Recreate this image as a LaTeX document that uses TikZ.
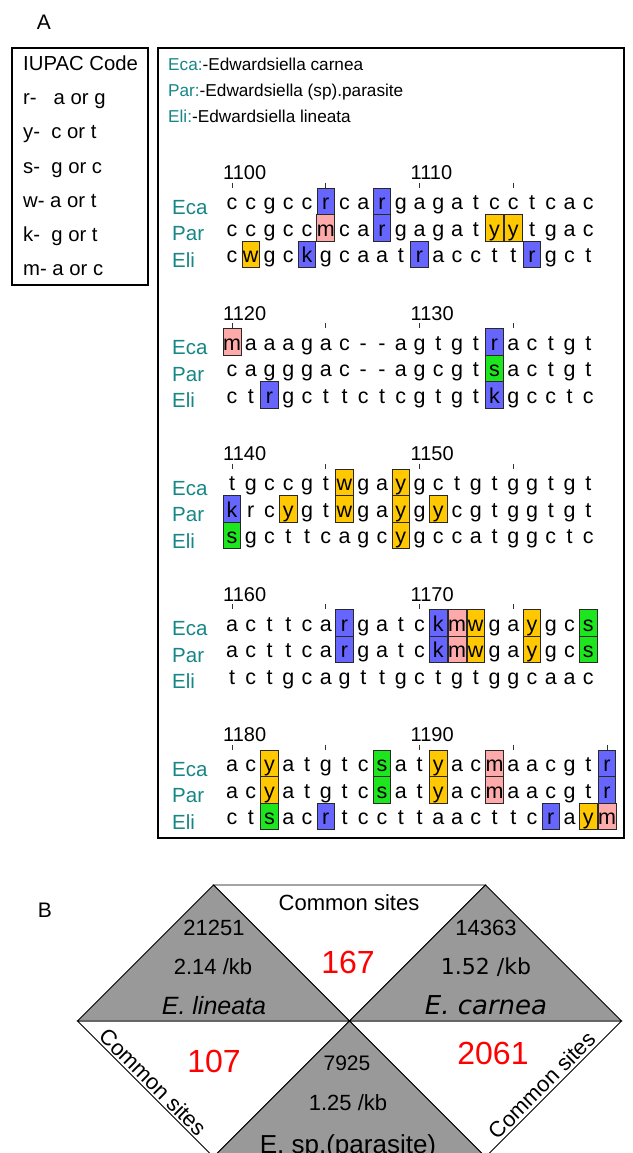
\documentclass[tikz,border=0pt]{standalone}
\usepackage{fontspec}
\setmainfont{Liberation Sans}
\newfontfamily\dvsans{DejaVu Sans}
\definecolor{labteal}{RGB}{22,134,134}
\definecolor{hlB}{RGB}{102,102,255}
\definecolor{hlP}{RGB}{255,170,170}
\definecolor{hlY}{RGB}{255,200,0}
\definecolor{hlG}{RGB}{30,230,30}
\definecolor{trigray}{RGB}{153,153,153}
\definecolor{cellline}{RGB}{40,40,40}
\newcommand\fsz[1]{\fontsize{#1}{#1}\selectfont}

% one aligned row: #1 block, #2 row tag, #3 baseline, #4 list of letter/highlight
\newcommand\seqrow[4]{%
  \foreach \ch/\hl [count=\i from 0] in {#4}{%
    \if\hl N\def\fc{none}\def\dc{none}\else\def\fc{hl\hl}\def\dc{cellline}\fi
    \node[cell,fill=\fc,draw=\dc] (#2#1-\i) at ({232+18.75*\i},#3) {\ch};
  }%
}

\begin{document}
\begin{tikzpicture}[x=1pt,y=-1pt,
  cell/.style={inner sep=0pt,minimum width=17.4pt,minimum height=26.5pt,
    text height=21.5pt,text depth=5pt,anchor=base,line width=0.7pt,font=\fsz{21.5}},
  numlbl/.style={inner sep=0pt,anchor=base west,font=\fsz{20}},
  rowlbl/.style={inner sep=0pt,anchor=base west,font=\fsz{20.5},text=labteal},
  legtxt/.style={inner sep=0pt,anchor=base west,font=\fsz{17.2}},
  iupac/.style={inner sep=0pt,anchor=base west,font=\fsz{20.3}},
  tick/.style={line width=0.9pt,draw=black!80},
  frame/.style={line width=1.3pt},
  tri/.style={draw=black,line width=0.8pt},
  btxt/.style={inner sep=0pt,anchor=base},
  redval/.style={inner sep=0pt,anchor=base,text=red,font=\fsz{32}},
  panel/.style={inner sep=0pt,font=\fsz{21}}]
\useasboundingbox (0,0) rectangle (632,1153);
\clip (0,0) rectangle (632,1153);
\fill[white] (0,0) rectangle (632,1153);

% ---------- panel A ----------
\node[panel] (pA) at (44,22) {A};

% IUPAC legend
\draw[frame] (12,48) rectangle (148,285);
\node[iupac] (iu0) at (23,71)  {IUPAC Code};
\node[iupac] (iu1) at (23,105) {r-\ \ \ a or g};
\node[iupac] (iu2) at (23,139) {y-\ \ c or t};
\node[iupac] (iu3) at (23,173) {s-\ \ g or c};
\node[iupac] (iu4) at (23,207) {w- a or t};
\node[iupac] (iu5) at (23,241) {k-\ \ g or t};
\node[iupac] (iu6) at (23,275) {m- a or c};

% alignment frame and species key
\draw[frame] (158,48) rectangle (624,838);
\node[legtxt] (kE) at (168,71)  {\textcolor{labteal}{Eca:}-Edwardsiella carnea};
\node[legtxt] (kP) at (168,97)  {\textcolor{labteal}{Par:}-Edwardsiella (sp).parasite};
\node[legtxt] (kL) at (168,123) {\textcolor{labteal}{Eli:}-Edwardsiella lineata};

% position numbers, ticks and row labels
\foreach \b/\na/\nb in {0/1100/1110,1/1120/1130,2/1140/1150,3/1160/1170,4/1180/1190}{
  \pgfmathsetmacro\yb{209.5+140.5*\b}
  \node[numlbl] (num\b a) at (223,{\yb-30}) {\na};
  \node[numlbl] (num\b b) at (410.5,{\yb-30}) {\nb};
  \node[rowlbl] (lab\b E) at (172,{\yb+4.5}) {Eca};
  \node[rowlbl] (lab\b P) at (172,{\yb+31}) {Par};
  \node[rowlbl] (lab\b L) at (172,{\yb+57.5}) {Eli};
  \foreach \t in {0,5,10,15}{\draw[tick] ({232+18.75*\t},{\yb-27}) -- ++(0,5);}
}
\draw[tick] (607,744.5) -- ++(0,5);

% block 1100
\seqrow{1}{E}{209.5}{c/N,c/N,g/N,c/N,c/N,r/B,c/N,a/N,r/B,g/N,a/N,g/N,a/N,t/N,c/N,c/N,t/N,c/N,a/N,c/N}
\seqrow{1}{P}{236}{c/N,c/N,g/N,c/N,c/N,m/P,c/N,a/N,r/B,g/N,a/N,g/N,a/N,t/N,y/Y,y/Y,t/N,g/N,a/N,c/N}
\seqrow{1}{L}{262.5}{c/N,w/Y,g/N,c/N,k/B,g/N,c/N,a/N,a/N,t/N,r/B,a/N,c/N,c/N,t/N,t/N,r/B,g/N,c/N,t/N}
% block 1120
\seqrow{2}{E}{350}{m/P,a/N,a/N,a/N,g/N,a/N,c/N,-/N,-/N,a/N,g/N,t/N,g/N,t/N,r/B,a/N,c/N,t/N,g/N,t/N}
\seqrow{2}{P}{376.5}{c/N,a/N,g/N,g/N,g/N,a/N,c/N,-/N,-/N,a/N,g/N,c/N,g/N,t/N,s/G,a/N,c/N,t/N,g/N,t/N}
\seqrow{2}{L}{403}{c/N,t/N,r/B,g/N,c/N,t/N,t/N,c/N,t/N,c/N,g/N,t/N,g/N,t/N,k/B,g/N,c/N,c/N,t/N,c/N}
% block 1140
\seqrow{3}{E}{490.5}{t/N,g/N,c/N,c/N,g/N,t/N,w/Y,g/N,a/N,y/Y,g/N,c/N,t/N,g/N,t/N,g/N,g/N,t/N,g/N,t/N}
\seqrow{3}{P}{517}{k/B,r/N,c/N,y/Y,g/N,t/N,w/Y,g/N,a/N,y/Y,g/N,y/Y,c/N,g/N,t/N,g/N,g/N,t/N,g/N,t/N}
\seqrow{3}{L}{543.5}{s/G,g/N,c/N,t/N,t/N,c/N,a/N,g/N,c/N,y/Y,g/N,c/N,c/N,a/N,t/N,g/N,g/N,c/N,t/N,c/N}
% block 1160
\seqrow{4}{E}{631}{a/N,c/N,t/N,t/N,c/N,a/N,r/B,g/N,a/N,t/N,c/N,k/B,m/P,w/Y,g/N,a/N,y/Y,g/N,c/N,s/G}
\seqrow{4}{P}{657.5}{a/N,c/N,t/N,t/N,c/N,a/N,r/B,g/N,a/N,t/N,c/N,k/B,m/P,w/Y,g/N,a/N,y/Y,g/N,c/N,s/G}
\seqrow{4}{L}{684}{t/N,c/N,t/N,g/N,c/N,a/N,g/N,t/N,t/N,g/N,c/N,t/N,g/N,t/N,g/N,g/N,c/N,a/N,a/N,c/N}
% block 1180
\seqrow{5}{E}{771.5}{a/N,c/N,y/Y,a/N,t/N,g/N,t/N,c/N,s/G,a/N,t/N,y/Y,a/N,c/N,m/P,a/N,a/N,c/N,g/N,t/N,r/B}
\seqrow{5}{P}{798}{a/N,c/N,y/Y,a/N,t/N,g/N,t/N,c/N,s/G,a/N,t/N,y/Y,a/N,c/N,m/P,a/N,a/N,c/N,g/N,t/N,r/B}
\seqrow{5}{L}{824.5}{c/N,t/N,s/G,a/N,c/N,r/B,t/N,c/N,c/N,t/N,t/N,a/N,a/N,c/N,t/N,t/N,c/N,r/B,a/N,y/Y,m/P}

% ---------- panel B ----------
\node[panel] (pB) at (45,910) {B};

\coordinate (cc) at (349.5,1021);
\coordinate (tl) at (213.5,885);
\coordinate (tr) at (485.5,885);
\coordinate (ml) at (77.5,1021);
\coordinate (mr) at (621.5,1021);
\coordinate (bl) at (213.5,1157);
\coordinate (br) at (485.5,1157);

\filldraw[tri,fill=white]   (tl) -- (tr) -- (cc) -- cycle;
\filldraw[tri,fill=white]   (ml) -- (cc) -- (bl) -- cycle;
\filldraw[tri,fill=white]   (cc) -- (mr) -- (br) -- cycle;
\filldraw[tri,fill=trigray] (ml) -- (tl) -- (cc) -- cycle;
\filldraw[tri,fill=trigray] (cc) -- (tr) -- (mr) -- cycle;
\filldraw[tri,fill=trigray] (cc) -- (br) -- (bl) -- cycle;

\node[btxt,font=\fsz{22}] (cstop) at (349,910) {Common sites};
\node[redval] (v167) at (348,973.5) {167};
\node[redval] (v107) at (214,1072.5) {107};
\node[redval] (v2061) at (493,1064.5) {2061};

\node[btxt,font=\fsz{22}] (nli) at (214,935) {21251};
\node[btxt,font=\fsz{22}] (dli) at (213,974) {2.14 /kb};
\node[btxt,font=\fsz{25}\itshape] (sli) at (214,1014) {E. lineata};

\node[btxt,font=\fsz{22}] (nca) at (486,935) {14363};
\node[btxt,font=\dvsans\fsz{22}] (dca) at (486,974) {1.52 /kb};
\node[btxt,font=\dvsans\fsz{26}\itshape] (sca) at (486,1014.5) {E. carnea};

\node[btxt,font=\fsz{21}] (npa) at (347,1070) {7925};
\node[btxt,font=\fsz{22}] (dpa) at (348,1110) {1.25 /kb};
\node[btxt,font=\fsz{26}] (spa) at (348,1153) {E. sp.(parasite)};

\node[inner sep=0pt,rotate=-45,font=\fsz{22}] (csl) at (153,1082) {Common sites};
\node[inner sep=0pt,rotate=45,font=\fsz{22}] (csr) at (542,1085) {Common sites};
\end{tikzpicture}
\end{document}
